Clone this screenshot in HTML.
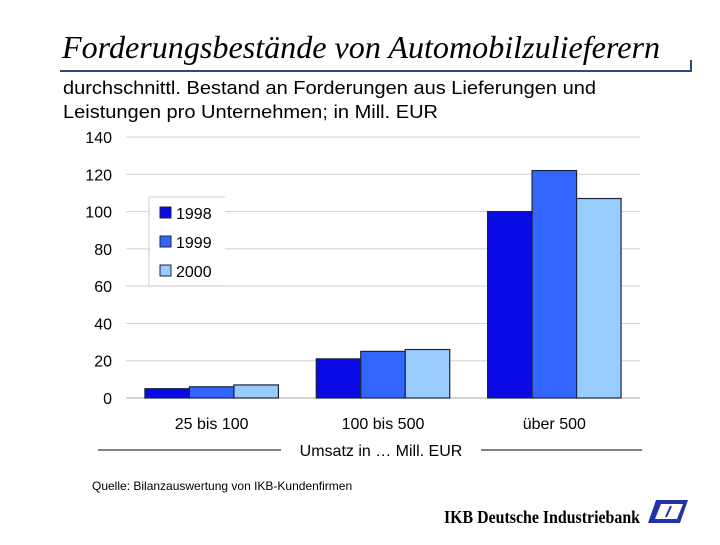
<!DOCTYPE html>
<html><head><meta charset="utf-8"><style>
body{margin:0;width:720px;height:540px;background:#fff;overflow:hidden;font-family:"Liberation Sans",sans-serif}
</style></head><body>
<svg width="720" height="540" xmlns="http://www.w3.org/2000/svg">
<text x="62" y="58" font-family="Liberation Serif" font-style="italic" font-size="32" textLength="598" lengthAdjust="spacingAndGlyphs" fill="#000">Forderungsbestände von Automobilzulieferern</text>
<line x1="60" y1="71" x2="692" y2="71" stroke="#2a4a7a" stroke-width="2"/>
<line x1="691" y1="60" x2="691" y2="72" stroke="#2a4a7a" stroke-width="2"/>
<text x="63" y="94" font-size="18" textLength="533" lengthAdjust="spacingAndGlyphs" fill="#000">durchschnittl. Bestand an Forderungen aus Lieferungen und</text>
<text x="63" y="118" font-size="18" textLength="375" lengthAdjust="spacingAndGlyphs" fill="#000">Leistungen pro Unternehmen; in Mill. EUR</text>
<g id="grid"></g><g id="bars"></g><g id="axis"></g>
<g>
<rect x="149" y="197" width="76" height="89" fill="#fff"/>
<line x1="149" y1="197" x2="149" y2="286" stroke="#ccc"/><line x1="149" y1="197" x2="225" y2="197" stroke="#ccc"/><line x1="149" y1="286" x2="225" y2="286" stroke="#ccc"/>
<rect x="160" y="207" width="11" height="11" fill="#0a0ae6" stroke="#223"/><text x="176" y="219" font-size="16">1998</text>
<rect x="160" y="236" width="11" height="11" fill="#3366ff" stroke="#223"/><text x="176" y="248" font-size="16">1999</text>
<rect x="160" y="265" width="11" height="11" fill="#99ccff" stroke="#223"/><text x="176" y="277" font-size="16">2000</text>
</g>
<line x1="98" y1="450" x2="281" y2="450" stroke="#000"/>
<line x1="481" y1="450" x2="642" y2="450" stroke="#000"/>
<text x="381" y="456" font-size="16" text-anchor="middle">Umsatz in … Mill. EUR</text>
<text x="92" y="490" font-size="12">Quelle: Bilanzauswertung von IKB-Kundenfirmen</text>
<text x="444" y="523" font-family="Liberation Serif" font-weight="bold" font-size="18" textLength="196" lengthAdjust="spacingAndGlyphs">IKB  Deutsche Industriebank</text>
<g><polygon points="656,500 688,500 680,523 648,523" fill="#2233aa"/><polygon points="661,504 683,504 677,519 655,519" fill="#fff"/><line x1="671" y1="506" x2="666" y2="517" stroke="#2233aa" stroke-width="2"/></g>
</svg>
<script>
const categories=["25 bis 100","100 bis 500","über 500"];
const s1998=[5,21,100];
const s1999=[6,25,122];
const s2000=[7,26,107];
const ticks=[0,20,40,60,80,100,120,140];
const NS="http://www.w3.org/2000/svg";
const y0=398,yTop=137,vmax=140,xL=126,xR=640;
const y=v=>y0-(v/vmax)*(y0-yTop);
const groupW=(xR-xL)/3;
const barW=44.5;
const x=(c,s)=>xL+groupW*c+groupW/2-barW*1.5+barW*s;
function mk(t,a,p){const e=document.createElementNS(NS,t);for(const k in a)e.setAttribute(k,a[k]);p.appendChild(e);return e;}
const grid=document.getElementById('grid'),bars=document.getElementById('bars'),axis=document.getElementById('axis');
ticks.forEach(t=>{
 const l=mk('line',{x1:xL,x2:xR,y1:y(t),y2:y(t),stroke:t===0?'#aaa':'#d0d0d0'},grid);
 
 
 const tx=mk('text',{x:112,y:y(t)+6,'text-anchor':'end','font-size':16},axis);
 tx.textContent=t;
 
 
});
const series=[s1998,s1999,s2000],cols=['#0a0ae6','#3366ff','#99ccff'],yrs=['1998','1999','2000'];
categories.forEach((c,i)=>{
 series.forEach((s,j)=>{
  const r=mk('rect',{x:x(i,j),y:y(s[i]),width:barW,height:y0-y(s[i]),fill:cols[j],stroke:'#1a2340','stroke-width':1.2},bars);
  
  
 });
 const t=mk('text',{x:xL+groupW*i+groupW/2,y:429,'text-anchor':'middle','font-size':16},axis);
 t.textContent=c;
 
 
});
</script>
</body></html>
